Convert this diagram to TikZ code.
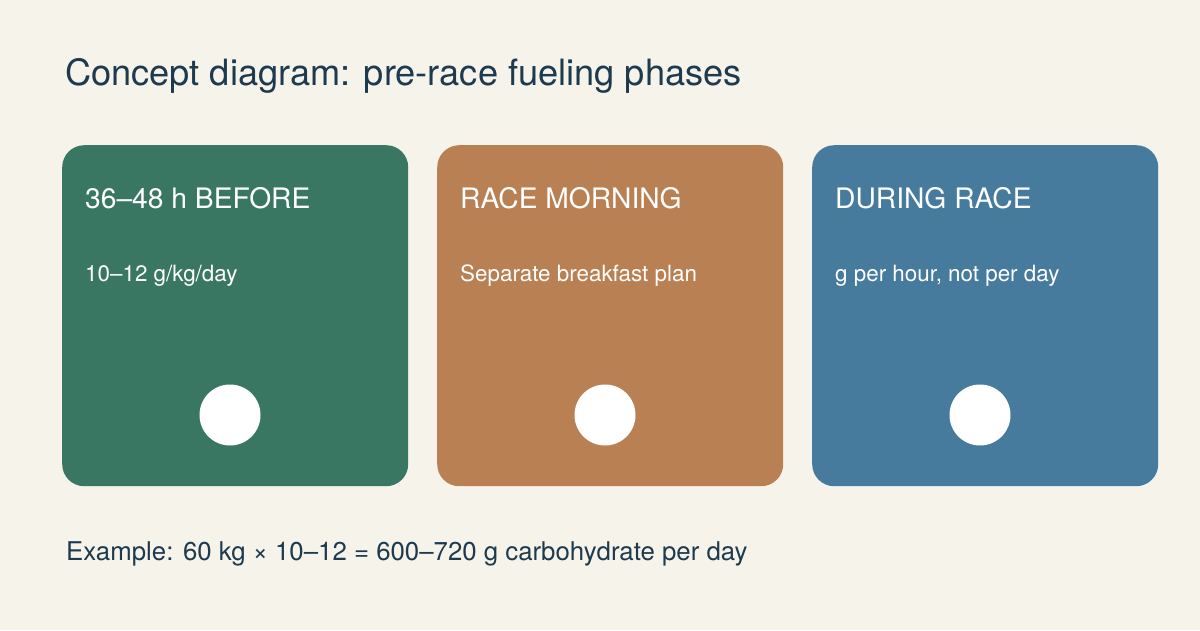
\documentclass[tikz,border=0pt]{standalone}
\usepackage{fontspec}
\setmainfont{TeX Gyre Heros}
\definecolor{bgcream}{HTML}{F6F3EA}
\definecolor{inkblue}{HTML}{1D3A4E}
\definecolor{cardgreen}{HTML}{3A7763}
\definecolor{cardorange}{HTML}{B98054}
\definecolor{cardblue}{HTML}{467B9E}
\begin{document}
\begin{tikzpicture}[x=1pt,y=-1pt,
  card/.style={rectangle,rounded corners=22pt,anchor=north west,inner sep=0pt,
    minimum width=346pt,minimum height=341pt},
  head/.style={anchor=base west,inner sep=0pt,text=white,font=\fontsize{28.2}{32}\selectfont},
  sub/.style={anchor=base west,inner sep=0pt,text=white,font=\fontsize{22.4}{26}\selectfont},
  dot/.style={circle,fill=white,inner sep=0pt,minimum size=61pt}]
\fill [bgcream] (0,0) rectangle (1200,630);
\useasboundingbox (0,0) rectangle (1200,630);
\node [anchor=base west,inner sep=0pt,text=inkblue,font=\fontsize{36.2}{42}\selectfont] (title) at (65,85) {Concept diagram: pre-race fueling phases};
% phase cards
\node [card,fill=cardgreen] (before) at (62,145) {};
\node [card,fill=cardorange] (morning) at (437,145) {};
\node [card,fill=cardblue] (during) at (812,145) {};
\node [head] (beforehead) at (85,208) {36–48 h BEFORE};
\node [head] (morninghead) at (460,208) {RACE MORNING};
\node [head] (duringhead) at (835,208) {DURING RACE};
\node [sub] (beforesub) at (85,281) {10–12 g/kg/day};
\node [sub] (morningsub) at (460,281) {Separate breakfast plan};
\node [sub] (duringsub) at (835,281) {g per hour, not per day};
\node [dot] (beforedot) at (230,415) {};
\node [dot] (morningdot) at (605,415) {};
\node [dot] (duringdot) at (980,415) {};
\node [anchor=base west,inner sep=0pt,text=inkblue,font=\fontsize{25.8}{30}\selectfont] (example) at (66,560) {Example: 60 kg × 10–12 = 600–720 g carbohydrate per day};
\end{tikzpicture}
\end{document}
